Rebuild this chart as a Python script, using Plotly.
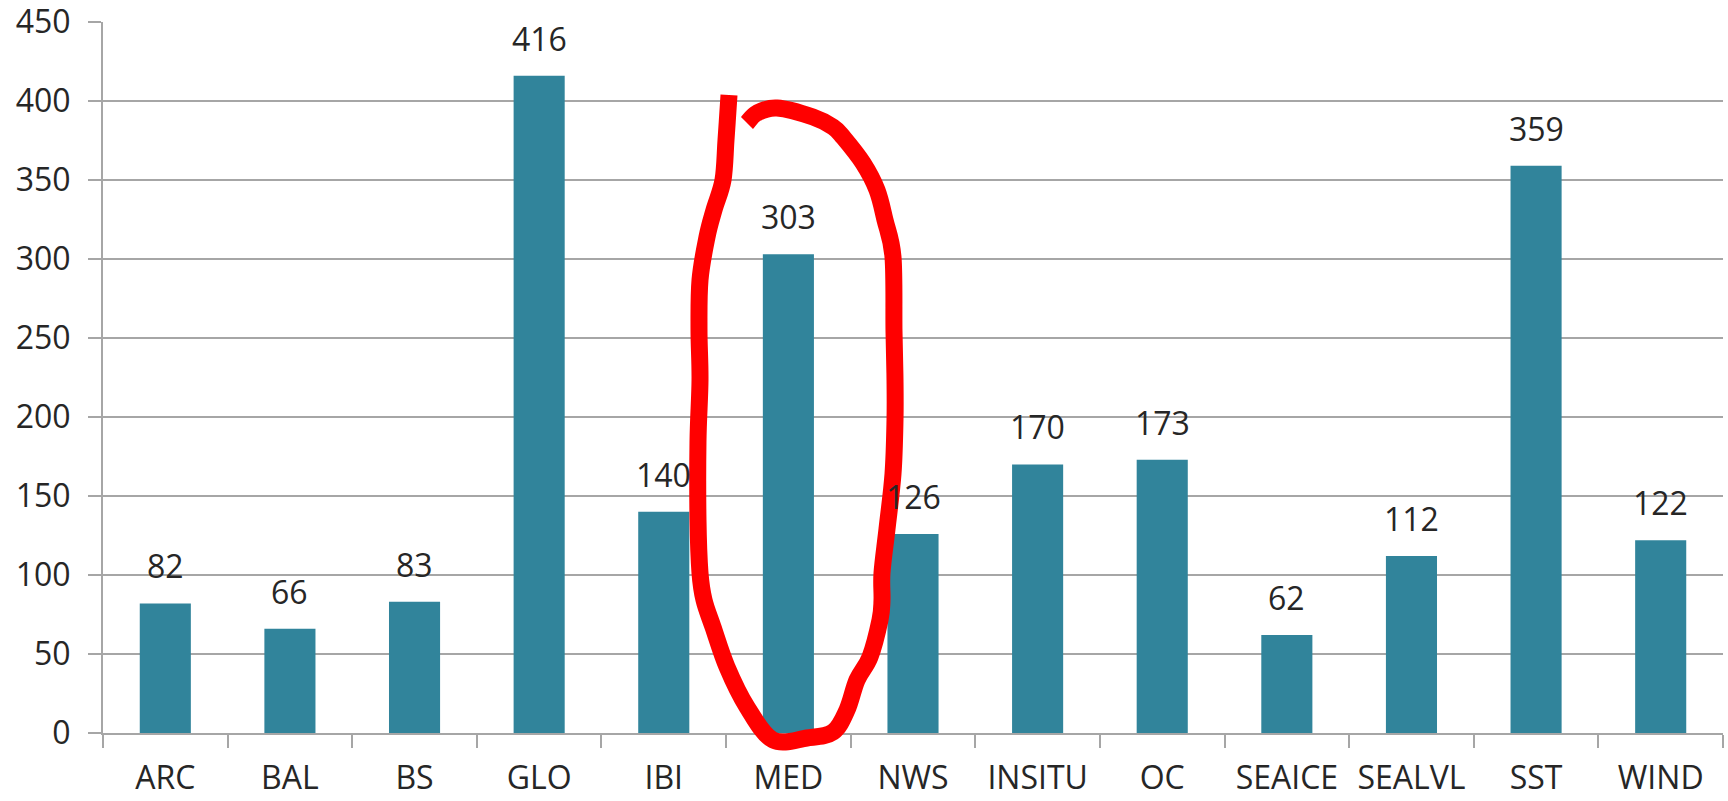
import plotly.graph_objects as go

categories = ["ARC", "BAL", "BS", "GLO", "IBI", "MED", "NWS", "INSITU", "OC", "SEAICE", "SEALVL", "SST", "WIND"]
values = [82, 66, 83, 416, 140, 303, 126, 170, 173, 62, 112, 359, 122]
y_ticks = [0, 50, 100, 150, 200, 250, 300, 350, 400, 450]

W, H = 1728, 801
PL, PT, PR, PB = 103, 22, 1723, 733          # plot area in page pixels
ML, MT = PL, PT
MR, MB = W - PR, H - PB
PW, PH = PR - PL, PB - PT

FONT = "Open Sans"
BAR = "#31849b"
GRID = "#a6a6a6"

fig = go.Figure()
fig.add_trace(go.Bar(x=categories, y=values, marker=dict(color=BAR, line=dict(width=0)),
                     hoverinfo="x+y"))

for c, v in zip(categories, values):
    fig.add_annotation(x=c, y=v, text=str(v), showarrow=False, yanchor="bottom",
                       yshift=14, font=dict(family=FONT, size=32, color="#262626"))

# hand-drawn red ellipse overlay (page pixel positions of the stroke)
red_px = [(729, 95), (726, 140), (723, 180), (714, 210), (707, 237), (700, 280), (699, 330),
          (700, 380), (698, 441), (698, 520), (700, 573), (704, 600), (713, 627), (727, 667),
          (747, 707), (773, 740), (807, 738), (833, 732), (847, 710), (857, 680), (870, 657),
          (880, 620), (882, 600), (882, 573), (887, 529), (893, 474), (895, 420), (895, 380),
          (894, 331), (893, 257), (885, 220), (877, 190), (863, 163), (843, 137), (833, 127),
          (813, 117), (777, 108), (757, 113), (747, 123)]

def to_paper(p):
    return ((p[0] - PL) / PW, (PB - p[1]) / PH)

pts = [to_paper(p) for p in red_px]

def smooth_path(P):
    d = f"M {P[0][0]:.5f},{P[0][1]:.5f}"
    n = len(P)
    for i in range(n - 1):
        p0 = P[i - 1] if i > 0 else P[i]
        p1, p2 = P[i], P[i + 1]
        p3 = P[i + 2] if i + 2 < n else P[i + 1]
        c1 = (p1[0] + (p2[0] - p0[0]) / 6, p1[1] + (p2[1] - p0[1]) / 6)
        c2 = (p2[0] - (p3[0] - p1[0]) / 6, p2[1] - (p3[1] - p1[1]) / 6)
        d += f" C {c1[0]:.5f},{c1[1]:.5f} {c2[0]:.5f},{c2[1]:.5f} {p2[0]:.5f},{p2[1]:.5f}"
    return d

fig.add_shape(type="path", path=smooth_path(pts), xref="paper", yref="paper",
              line=dict(color="#ff0000", width=17), layer="above")

fig.update_layout(
    width=W, height=H,
    margin=dict(l=ML, r=MR, t=MT, b=MB, pad=0, autoexpand=False),
    plot_bgcolor="white", paper_bgcolor="white",
    bargap=0.59, showlegend=False,
    font=dict(family=FONT, size=32, color="#404040"),
)
fig.update_xaxes(
    type="category", showgrid=False, showline=True, linecolor=GRID, linewidth=2,
    ticks="outside", ticklen=13, tickwidth=2, tickcolor=GRID, tickson="boundaries",
    tickfont=dict(family=FONT, size=32, color="#262626"), ticklabelstandoff=16,
    range=[-0.5, len(categories) - 0.5], automargin=False, ticklabeloverflow="allow",
)
fig.update_yaxes(
    range=[0, 450], tickvals=y_ticks, showgrid=True, gridcolor=GRID, gridwidth=2,
    showline=True, linecolor=GRID, linewidth=2, zeroline=False,
    ticks="outside", ticklen=13, tickwidth=2, tickcolor=GRID,
    tickfont=dict(family=FONT, size=32, color="#262626"), ticklabelstandoff=11,
    automargin=False, ticklabeloverflow="allow",
)

fig.write_html("out.html", config={"displayModeBar": False},
               post_script="document.body.style.margin='0';document.body.style.overflow='hidden';")
